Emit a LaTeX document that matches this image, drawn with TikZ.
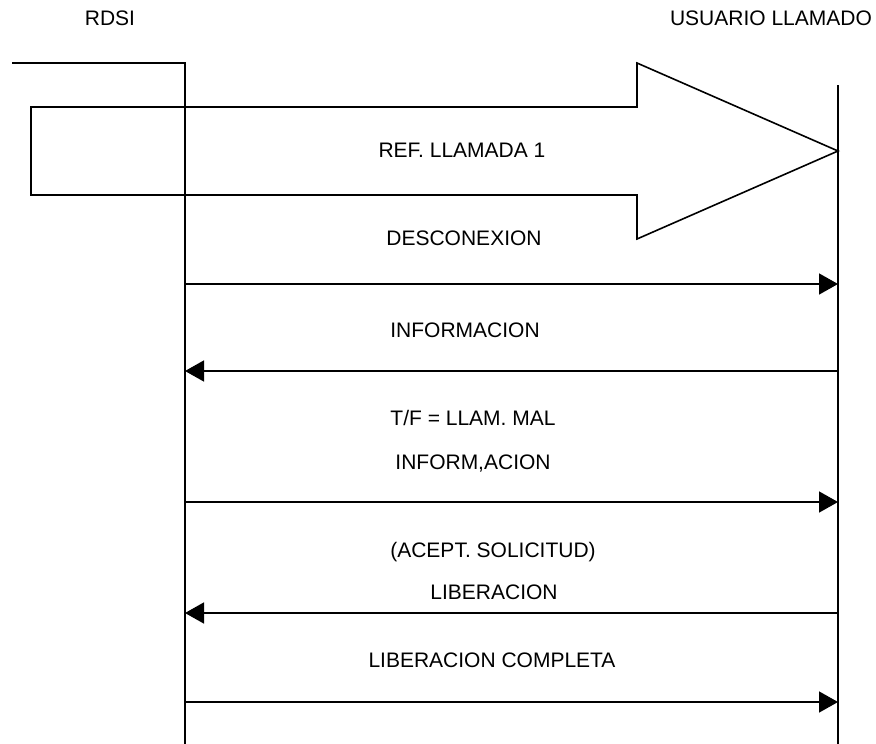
\documentclass[tikz,border=0pt]{standalone}
\usepackage{fontspec}
\setmainfont{Liberation Sans}
\usetikzlibrary{arrows.meta}
\begin{document}
\begin{tikzpicture}[x=1pt,y=1pt,
  line/.style={line width=1.6pt},
  msg/.style={line width=1.6pt,-{Triangle[length=19pt,width=21pt]}},
  lbl/.style={anchor=base,inner sep=0pt,font=\fontsize{21}{25}\selectfont}]
\useasboundingbox (0,0) rectangle (876,-744);
% lifelines
\coordinate (lstart) at (12,-63);
\coordinate (lcorner) at (185,-63);
\coordinate (lend) at (185,-744);
\coordinate (rtop) at (838,-85);
\coordinate (rend) at (838,-744);
\draw[line] (lstart) -- (lcorner) -- (lend);
\draw[line] (rtop) -- (rend);
% headers
\node[lbl] (rdsi) at (110,-25.5) {RDSI};
\node[lbl] (usuario) at (771,-25.5) {USUARIO LLAMADO};
% big arrow
\draw[line,line join=miter] (31,-107) -- (637,-107) -- (637,-63) -- (838,-151) -- (637,-239) -- (637,-195) -- (31,-195) -- cycle;
\node[lbl] (ref) at (462,-157.5) {REF. LLAMADA 1};
% messages
\coordinate (l1) at (185,-284); \coordinate (r1) at (838,-284);
\coordinate (l2) at (185,-371); \coordinate (r2) at (838,-371);
\coordinate (l3) at (185,-502); \coordinate (r3) at (838,-502);
\coordinate (l4) at (185,-613); \coordinate (r4) at (838,-613);
\coordinate (l5) at (185,-702); \coordinate (r5) at (838,-702);
\draw[msg] (l1) -- (r1);
\draw[msg] (r2) -- (l2);
\draw[msg] (l3) -- (r3);
\draw[msg] (r4) -- (l4);
\draw[msg] (l5) -- (r5);
\node[lbl] (t1) at (464,-245.5) {DESCONEXION};
\node[lbl] (t2) at (465,-337.5) {INFORMACION};
\node[lbl] (t3a) at (473,-425.5) {T/F = LLAM. MAL};
\node[lbl] (t3b) at (473,-469.5) {INFORM,ACION};
\node[lbl] (t4a) at (493,-557.5) {(ACEPT. SOLICITUD)};
\node[lbl] (t4b) at (494,-599.5) {LIBERACION};
\node[lbl] (t5) at (492,-667.5) {LIBERACION COMPLETA};
\end{tikzpicture}
\end{document}
